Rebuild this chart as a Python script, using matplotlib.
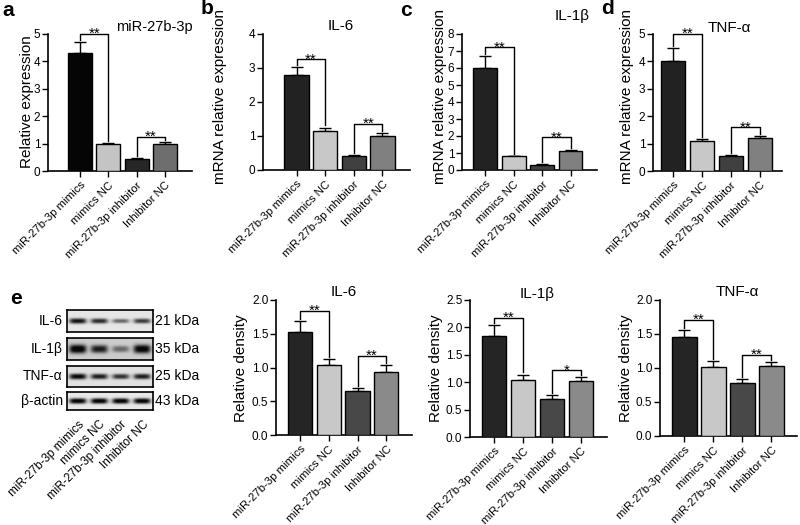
import numpy as np
import matplotlib.pyplot as plt

plt.rcParams['font.family'] = ['Liberation Sans', 'DejaVu Sans']

groups = ['miR-27b-3p mimics', 'mimics NC', 'miR-27b-3p inhibitor', 'Inhibitor NC']

# qPCR (top row)
mir_mean = [4.3, 1.0, 0.42, 1.0]
mir_err = [0.4, 0.02, 0.05, 0.07]
il6_mean = [2.8, 1.15, 0.4, 1.0]
il6_err = [0.22, 0.1, 0.05, 0.08]
il1b_mean = [6.0, 0.8, 0.28, 1.1]
il1b_err = [0.7, 0.05, 0.05, 0.07]
tnf_mean = [4.0, 1.1, 0.55, 1.2]
tnf_err = [0.5, 0.07, 0.05, 0.06]

# western blot densitometry (bottom row)
wb_il6_mean = [1.53, 1.03, 0.65, 0.94]
wb_il6_err = [0.16, 0.1, 0.05, 0.09]
wb_il1b_mean = [1.85, 1.04, 0.7, 1.02]
wb_il1b_err = [0.2, 0.1, 0.06, 0.08]
wb_tnf_mean = [1.46, 1.02, 0.78, 1.03]
wb_tnf_err = [0.1, 0.08, 0.06, 0.06]

# significance bracket heights and labels
mir_brk = [5.0, 1.25]
il6_brk = [3.26, 1.36]
il1b_brk = [7.21, 1.93]
tnf_brk = [5.0, 1.59]
wb_il6_brk = [1.84, 1.17]
wb_il1b_brk = [2.18, 1.22]
wb_tnf_brk = [1.71, 1.19]
stars_2 = ['**', '**']
stars_wb_il1b = ['**', '*']

# blot
blot_rows = ['IL-6', 'IL-1β', 'TNF-α', 'β-actin']
blot_kda = ['21 kDa', '35 kDa', '25 kDa', '43 kDa']
band_il6 = [0.85, 0.75, 0.50, 0.68]
band_il1b = [0.98, 0.80, 0.45, 0.95]
band_tnf = [0.90, 0.80, 0.72, 0.80]
band_actin = [0.95, 0.95, 0.95, 0.95]

W, H = 800, 525
fig = plt.figure(figsize=(8, 5.25), dpi=100)


def px_axes(l, t, r, b):
    return fig.add_axes([l / W, 1 - b / H, (r - l) / W, (b - t) / H])


def fig_text(x, y, s, **kw):
    fig.text(x / W, 1 - y / H, s, **kw)


def bar_panel(box, pads, means, errs, ymax, step, colors, brk, stars, fmt):
    ax = px_axes(*box)
    x = np.arange(len(groups))
    ax.bar(x, means, width=0.84, color=colors, edgecolor='black', linewidth=1, zorder=3)
    ax.errorbar(x, means, yerr=[np.zeros(len(x)), errs], fmt='none', ecolor='black',
                elinewidth=1, capsize=4.3, capthick=1, zorder=2)
    ax.set_xlim(-pads[0], len(x) - 1 + pads[1])
    ax.set_ylim(0, ymax)
    ticks = np.arange(0, ymax + step / 2, step)
    ax.set_yticks(ticks)
    ax.set_yticklabels([fmt % t for t in ticks])
    ax.set_xticks(x)
    ax.set_xticklabels(groups, rotation=45, ha='right', va='top', rotation_mode='anchor', fontsize=8.2)
    for s in ['top', 'right']:
        ax.spines[s].set_visible(False)
    for s in ['left', 'bottom']:
        ax.spines[s].set_linewidth(1.2)
    ax.tick_params(axis='both', length=4, width=1, pad=1.5)
    ax.tick_params(axis='y', labelsize=8.5)
    ax.tick_params(axis='x', pad=2.5)
    top = np.array(means) + np.array(errs)
    gap = 0.015 * ymax
    for (i, j), h, st in zip([(0, 1), (2, 3)], brk, stars):
        ax.plot([i, i, j, j], [top[i] + gap, h, h, top[j] + gap], color='black', lw=1, clip_on=False)
        ax.annotate(st, ((i + j) / 2, h), xytext=(0, -3), textcoords='offset points',
                    ha='center', va='baseline', fontsize=11)
    return ax


cols_a = ['#050505', '#c4c4c4', '#262626', '#6e6e6e']
cols_top = ['#222222', '#c8c8c8', '#404040', '#808080']
cols_bot = ['#252525', '#c8c8c8', '#484848', '#8a8a8a']

bar_panel((48, 34, 192, 171), (1.13, 0.95), mir_mean, mir_err, 5, 1, cols_a, mir_brk, stars_2, '%d')
bar_panel((263, 34, 410, 170), (1.17, 0.96), il6_mean, il6_err, 4, 1, cols_top, il6_brk, stars_2, '%d')
bar_panel((462, 34, 597, 170), (0.81, 0.93), il1b_mean, il1b_err, 8, 1, cols_top, il1b_brk, stars_2, '%d')
bar_panel((653, 34, 782, 171), (0.71, 0.78), tnf_mean, tnf_err, 5, 1, cols_top, tnf_brk, stars_2, '%d')

bar_panel((276, 300, 412, 435), (0.83, 0.89), wb_il6_mean, wb_il6_err, 2.0, 0.5, cols_bot, wb_il6_brk, stars_2, '%.1f')
bar_panel((470, 300, 607, 437), (0.83, 0.90), wb_il1b_mean, wb_il1b_err, 2.5, 0.5, cols_bot, wb_il1b_brk, stars_wb_il1b, '%.1f')
bar_panel((660, 300, 797, 436), (0.84, 0.88), wb_tnf_mean, wb_tnf_err, 2.0, 0.5, cols_bot, wb_tnf_brk, stars_2, '%.1f')

# titles
fig_text(154, 27, 'miR-27b-3p', ha='center', va='center', fontsize=10.5)
fig_text(341, 26, 'IL-6', ha='center', va='center', fontsize=11)
fig_text(572, 16, 'IL-1β', ha='center', va='center', fontsize=11)
fig_text(729, 28, 'TNF-α', ha='center', va='center', fontsize=11)
fig_text(344, 292, 'IL-6', ha='center', va='center', fontsize=11)
fig_text(537, 294, 'IL-1β', ha='center', va='center', fontsize=11)
fig_text(737, 292, 'TNF-α', ha='center', va='center', fontsize=11)

# y labels
fig_text(27, 102, 'Relative expression', rotation=90, ha='center', va='center', fontsize=11)
fig_text(220, 96, 'mRNA relative expression', rotation=90, ha='center', va='center', fontsize=11)
fig_text(440, 97, 'mRNA relative expression', rotation=90, ha='center', va='center', fontsize=11)
fig_text(627, 97, 'mRNA relative expression', rotation=90, ha='center', va='center', fontsize=11)
fig_text(241, 368, 'Relative density', rotation=90, ha='center', va='center', fontsize=11)
fig_text(436, 368, 'Relative density', rotation=90, ha='center', va='center', fontsize=11)
fig_text(626, 368, 'Relative density', rotation=90, ha='center', va='center', fontsize=11)

# panel letters
for lx, ly, lt in [(8, 10, 'a'), (207, 9, 'b'), (406, 10, 'c'), (607, 9, 'd'), (16, 298, 'e')]:
    fig_text(lx, ly, lt, ha='center', va='center', fontsize=15, fontweight='bold')

# western blot strips
row_boxes = [(67, 310, 153, 332), (67, 338, 153, 360), (67, 366, 153, 387), (67, 392, 153, 410)]
row_bands = [band_il6, band_il1b, band_tnf, band_actin]
row_bg = [0.90, 0.80, 0.88, 0.91]
row_thick = [0.11, 0.17, 0.12, 0.13]
xs = np.linspace(-0.5, 3.5, 240)
ys = np.linspace(0, 1, 60)
XX, YY = np.meshgrid(xs, ys)
for k, (box, bands) in enumerate(zip(row_boxes, row_bands)):
    ax = px_axes(*box)
    img = np.full(XX.shape, row_bg[k])
    for lane, v in enumerate(bands):
        prof = np.exp(-(np.abs(XX - lane) / 0.40) ** 4) * np.exp(-(np.abs(YY - 0.5) / (row_thick[k] * (0.6 + 0.6 * v))) ** 2.5)
        img = img - 1.1 * v * prof * row_bg[k]
    ax.imshow(np.clip(img, 0.03, 1), cmap='gray', vmin=0, vmax=1, extent=(-0.5, 3.5, 0, 1),
              aspect='auto', interpolation='bilinear')
    for s in ax.spines.values():
        s.set_linewidth(1.2)
    ax.set_yticks([])
    ax.text(-0.05, 0.5, blot_rows[k], transform=ax.transAxes, ha='right', va='center', fontsize=10)
    ax.text(1.02, 0.5, blot_kda[k], transform=ax.transAxes, ha='left', va='center', fontsize=10)
    if k == len(row_boxes) - 1:
        ax.set_xticks(range(len(groups)))
        ax.set_xticklabels(groups, rotation=45, ha='right', va='top', rotation_mode='anchor', fontsize=8.5)
        ax.tick_params(axis='x', length=0, pad=6)
    else:
        ax.set_xticks([])

fig.savefig('out.png', dpi=100)
